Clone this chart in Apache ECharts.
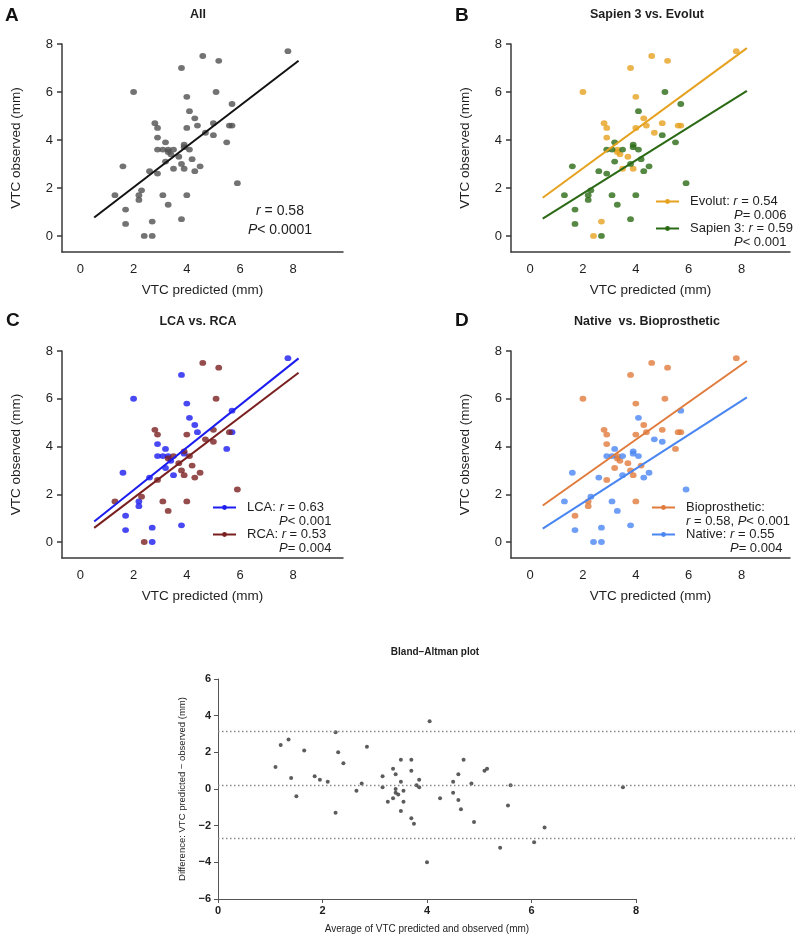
<!DOCTYPE html>
<html><head><meta charset="utf-8">
<script src="https://cdn.jsdelivr.net/npm/echarts@6/dist/echarts.min.js"></script>
<style>html,body{margin:0;padding:0;background:#fff}#c{width:800px;height:939px}</style>
</head><body><div id="c"></div>
<script>
// ---------- DATA (VTC predicted, VTC observed) ----------
const evolut = [[7.8,7.7],[4.6,7.5],[5.2,7.3],[3.8,7.0],[2.0,6.0],[4.0,5.8],[2.8,4.7],[2.9,4.5],[4.0,4.5],[4.3,4.9],[4.4,4.6],[5.0,4.7],[4.7,4.3],[5.6,4.6],[5.7,4.6],[2.9,4.1],[3.3,3.6],[3.3,3.5],[3.4,3.4],[3.7,3.3],[3.5,2.8],[3.9,2.8],[2.7,0.6],[2.4,0.0]];
const sapien3 = [[5.1,6.0],[5.7,5.5],[4.1,5.2],[5.0,4.2],[3.2,3.9],[5.5,3.9],[3.9,3.8],[3.9,3.7],[2.9,3.6],[3.1,3.6],[3.5,3.6],[4.1,3.6],[3.2,3.1],[4.2,3.2],[3.8,3.0],[1.6,2.9],[4.5,2.9],[2.6,2.7],[4.3,2.7],[2.9,2.6],[5.9,2.2],[2.3,1.9],[1.3,1.7],[2.2,1.7],[2.2,1.5],[3.1,1.7],[4.0,1.7],[3.3,1.3],[1.7,1.1],[1.7,0.5],[3.8,0.7],[2.7,0.0]];
const lca = [[7.8,7.7],[3.8,7.0],[2.0,6.0],[4.0,5.8],[4.1,5.2],[4.3,4.9],[4.4,4.6],[5.7,5.5],[5.7,4.6],[5.5,3.9],[2.9,4.1],[3.2,3.9],[2.9,3.6],[3.1,3.6],[3.3,3.6],[3.4,3.4],[3.2,3.1],[3.5,2.8],[3.9,3.7],[1.6,2.9],[2.6,2.7],[2.2,1.7],[2.2,1.5],[1.7,1.1],[1.7,0.5],[2.7,0.6],[3.8,0.7],[2.7,0.0]];
const rca = [[4.6,7.5],[5.2,7.3],[5.1,6.0],[2.8,4.7],[2.9,4.5],[4.0,4.5],[4.7,4.3],[5.0,4.7],[5.0,4.2],[5.6,4.6],[3.3,3.5],[3.5,3.6],[3.7,3.3],[3.9,3.8],[4.1,3.6],[4.2,3.2],[3.8,3.0],[3.9,2.8],[4.5,2.9],[4.3,2.7],[2.9,2.6],[5.9,2.2],[2.3,1.9],[1.3,1.7],[3.1,1.7],[4.0,1.7],[3.3,1.3],[2.4,0.0]];
const bioprosthetic = [[7.8,7.7],[4.6,7.5],[5.2,7.3],[3.8,7.0],[2.0,6.0],[5.1,6.0],[4.0,5.8],[2.8,4.7],[2.9,4.5],[4.0,4.5],[4.3,4.9],[4.4,4.6],[5.0,4.7],[5.6,4.6],[5.7,4.6],[5.5,3.9],[2.9,4.1],[3.3,3.6],[3.3,3.5],[3.4,3.4],[3.7,3.3],[3.8,3.0],[3.9,2.8],[3.2,3.1],[4.2,3.2],[2.9,2.6],[2.2,1.7],[2.2,1.5],[4.0,1.7],[1.7,1.1]];
const nativeValve = [[5.7,5.5],[4.1,5.2],[4.7,4.3],[5.0,4.2],[3.2,3.9],[3.9,3.8],[3.9,3.7],[2.9,3.6],[3.1,3.6],[3.5,3.6],[4.1,3.6],[3.5,2.8],[4.5,2.9],[4.3,2.7],[1.6,2.9],[2.6,2.7],[5.9,2.2],[2.3,1.9],[1.3,1.7],[3.1,1.7],[3.3,1.3],[1.7,0.5],[2.7,0.6],[3.8,0.7],[2.4,0.0],[2.7,0.0]];
const allPoints = evolut.concat(sapien3);

// regression line end points
const fitAll = [[0.52,0.77],[8.2,7.3]];
const fitEvolut = [[0.48,1.59],[8.2,7.83]];
const fitSapien = [[0.48,0.72],[8.2,6.05]];
const fitLCA = [[0.52,0.86],[8.2,7.69]];
const fitRCA = [[0.52,0.59],[8.2,7.09]];
const fitBio = [[0.48,1.53],[8.2,7.58]];
const fitNative = [[0.48,0.56],[8.2,6.06]];

// Bland-Altman
const baAverage = [1.1,1.2,1.35,1.4,1.5,1.65,1.85,1.95,2.1,2.25,2.25,2.3,2.4,2.65,2.75,2.85,3.15,3.15,3.25,3.35,3.35,3.4,3.4,3.4,3.45,3.5,3.5,3.5,3.55,3.55,3.7,3.7,3.7,3.75,3.8,3.85,3.85,4.0,4.05,4.25,4.5,4.5,4.6,4.6,4.65,4.7,4.85,4.9,5.1,5.15,5.4,5.55,5.6,6.05,6.25,7.75];
const baDifference = [1.2,2.4,2.7,0.6,-0.4,2.1,0.7,0.5,0.4,3.1,-1.3,2.0,1.4,-0.1,0.3,2.3,0.7,0.1,-0.7,1.1,-0.5,0.8,0.0,-0.2,-0.3,1.6,0.4,-1.2,-0.1,-0.7,1.6,1.0,-1.6,-1.9,0.2,0.5,0.1,-4.0,3.7,-0.5,0.4,-0.2,0.8,-0.6,-1.1,1.6,0.3,-1.8,1.0,1.1,-3.2,-0.9,0.2,-2.9,-2.1,0.1];
const baLimits = [3.13, 0.21, -2.71];

const scatterTicks = [0,2,4,6,8];

// ---------- CHART ----------
const FONT = '"Liberation Sans", Arial, sans-serif';
const TXT = '#1e1e1e';
const AX = '#3a3a3a';
const chart = echarts.init(document.getElementById('c'), null, {renderer:'canvas'});

const grids = [
  {left:62, top:44, width:281, height:208},
  {left:511, top:44, width:279, height:208},
  {left:62, top:351, width:281, height:207},
  {left:511, top:351, width:279, height:207},
  {left:218, top:679, width:418, height:220},
  {left:218, top:679, width:577, height:220}
];

function xAx(gi, min, max){
  return {type:'value', gridIndex:gi, min:min, max:max,
    axisLine:{show:true, onZero:false, lineStyle:{color:AX, width:1.5}},
    axisTick:{show:false},
    axisLabel:{customValues:scatterTicks, fontSize:13, color:TXT, margin:11, fontFamily:FONT},
    splitLine:{show:false},
    name:'VTC predicted (mm)', nameLocation:'middle', nameGap:31,
    nameTextStyle:{fontSize:13.5, color:TXT, fontFamily:FONT}};
}
function yAx(gi){
  return {type:'value', gridIndex:gi, min:-0.67, max:8,
    axisLine:{show:true, onZero:false, lineStyle:{color:AX, width:1.5}},
    axisTick:{show:true, customValues:scatterTicks, length:5, lineStyle:{color:AX, width:1.5}},
    axisLabel:{customValues:scatterTicks, fontSize:13, color:TXT, margin:9, fontFamily:FONT},
    splitLine:{show:false},
    name:'VTC observed (mm)', nameLocation:'middle', nameGap:39,
    nameTextStyle:{fontSize:13.5, color:TXT, fontFamily:FONT}};
}

function dots(name, data, gi, color){
  return {type:'scatter', name:name, xAxisIndex:gi, yAxisIndex:gi, data:data,
    symbol:'circle', symbolSize:[6.8,5.8], itemStyle:{color:color}, silent:true, z:3};
}
function fit(name, data, gi, color){
  return {type:'line', name:name, xAxisIndex:gi, yAxisIndex:gi, data:data,
    symbol:'circle', showSymbol:false, symbolSize:6,
    lineStyle:{color:color, width:2}, itemStyle:{color:color}, silent:true, z:4};
}

const rich = {
  e:{fontSize:13, lineHeight:14, fontFamily:FONT, color:TXT},
  t:{fontSize:13, lineHeight:14, fontFamily:FONT, color:TXT},
  i:{fontSize:13, lineHeight:14, fontFamily:FONT, color:TXT, fontStyle:'italic'},
  s:{fontSize:13, lineHeight:14, width:44},
  s2:{fontSize:13, lineHeight:14, width:32},
  p:{fontSize:13, lineHeight:14, width:6}
};
const legendText = {
  'Evolut':'{e| }\n{p|}{t|Evolut: }{i|r}{t| = 0.54}\n{p|}{s| }{i|P}{t|= 0.006}',
  'Sapien 3':'{e| }\n{p|}{t|Sapien 3: }{i|r}{t| = 0.59}\n{p|}{s| }{i|P}{t|< 0.001}',
  'LCA':'{e| }\n{p|}{t|LCA: }{i|r}{t| = 0.63}\n{p|}{s2| }{i|P}{t|< 0.001}',
  'RCA':'{e| }\n{p|}{t|RCA: }{i|r}{t| = 0.53}\n{p|}{s2| }{i|P}{t|= 0.004}',
  'Bioprosthetic':'{e| }\n{p|}{t|Bioprosthetic:}\n{p|}{i|r}{t| = 0.58, }{i|P}{t|< 0.001}',
  'Native':'{e| }\n{p|}{t|Native: }{i|r}{t| = 0.55}\n{p|}{s| }{i|P}{t|= 0.004}'
};
function legend(names, left, top){
  return {data:names, left:left, top:top, orient:'vertical', padding:0,
    itemWidth:23, itemHeight:6, itemGap:-14, selectedMode:false,
    formatter:function(n){return legendText[n];},
    textStyle:{rich:rich, fontSize:13, fontFamily:FONT, color:TXT}};
}

function ttl(text, cx, top, size){
  return {text:text, left:cx, top:top, textAlign:'center', padding:0,
    textStyle:{fontSize:size, fontWeight:'bold', color:TXT, fontFamily:FONT}};
}
function letter(text, left, top){
  return {text:text, left:left, top:top, padding:0,
    textStyle:{fontSize:19, fontWeight:'bold', color:'#111', fontFamily:FONT}};
}

const minus = v => String(v).replace('-', '\u2212');

const option = {
  animation:false,
  backgroundColor:'#fff',
  title:[
    letter('A', 5, 6), ttl('All', 198, 8, 12.5),
    letter('B', 455, 6), ttl('Sapien 3 vs. Evolut', 647, 8, 12.5),
    letter('C', 6, 311), ttl('LCA vs. RCA', 198, 315, 12.5),
    letter('D', 455, 311), ttl('Native  vs. Bioprosthetic', 647, 315, 12.5),
    ttl('Bland\u2013Altman plot', 435, 647, 10),
    {text:'{i|r}{t| = 0.58}\n{i|P}{t|< 0.0001}', left:280, top:202, textAlign:'center', padding:0,
     textStyle:{fontWeight:'normal', rich:{
       t:{fontSize:14, lineHeight:19, fontFamily:FONT, color:TXT, fontWeight:'normal'},
       i:{fontSize:14, lineHeight:19, fontFamily:FONT, color:TXT, fontWeight:'normal', fontStyle:'italic'}}}}
  ],
  legend:[
    legend(['Evolut','Sapien 3'], 655, 181),
    legend(['LCA','RCA'], 212, 487),
    legend(['Bioprosthetic','Native'], 651, 487)
  ],
  grid:grids,
  xAxis:[
    xAx(0,-0.69,9.87), xAx(1,-0.72,9.83), xAx(2,-0.69,9.87), xAx(3,-0.72,9.83),
    {type:'value', gridIndex:4, min:0, max:8, interval:2,
     axisLine:{show:true, onZero:false, lineStyle:{color:'#555', width:1}},
     axisTick:{show:true, length:4, lineStyle:{color:'#555'}},
     axisLabel:{fontSize:11, fontWeight:'bold', color:TXT, margin:6, fontFamily:FONT},
     splitLine:{show:false},
     name:'Average of VTC predicted and observed (mm)', nameLocation:'middle', nameGap:25,
     nameTextStyle:{fontSize:10, color:TXT, fontFamily:FONT}},
    {type:'value', gridIndex:5, min:0, max:1, show:false}
  ],
  yAxis:[
    yAx(0), yAx(1), yAx(2), yAx(3),
    {type:'value', gridIndex:4, min:-6, max:6, interval:2,
     axisLine:{show:true, onZero:false, lineStyle:{color:'#555', width:1}},
     axisTick:{show:true, length:4, lineStyle:{color:'#555'}},
     axisLabel:{fontSize:11, fontWeight:'bold', color:TXT, margin:7, fontFamily:FONT, formatter:minus},
     splitLine:{show:false},
     name:'Difference: VTC predicted \u2212 observed (mm)', nameLocation:'middle', nameGap:26,
     nameTextStyle:{fontSize:9.5, color:TXT, fontFamily:FONT}},
    {type:'value', gridIndex:5, min:-6, max:6, show:false}
  ],
  series:[
    dots('All pts', allPoints, 0, '#505050'),
    fit('All fit', fitAll, 0, '#111'),

    dots('Evolut pts', evolut, 1, '#e6a11f'),
    dots('Sapien 3 pts', sapien3, 1, '#2b6a14'),
    fit('Evolut', fitEvolut, 1, '#e6a11f'),
    fit('Sapien 3', fitSapien, 1, '#2b6a14'),

    dots('LCA pts', lca, 2, '#1c1cf0'),
    dots('RCA pts', rca, 2, '#7a1f1f'),
    fit('LCA', fitLCA, 2, '#1c1cf0'),
    fit('RCA', fitRCA, 2, '#7a1f1f'),

    dots('Bioprosthetic pts', bioprosthetic, 3, '#e07b3c'),
    dots('Native pts', nativeValve, 3, '#4a86f2'),
    fit('Bioprosthetic', fitBio, 3, '#e07b3c'),
    fit('Native', fitNative, 3, '#4a86f2'),

    {type:'scatter', name:'BA', xAxisIndex:4, yAxisIndex:4,
     data:baAverage.map((a,i)=>[a, baDifference[i]]),
     symbol:'circle', symbolSize:4, itemStyle:{color:'#333'}, silent:true, z:3},
    {type:'line', name:'BA limits', xAxisIndex:5, yAxisIndex:5, data:[], silent:true,
     markLine:{silent:true, symbol:['none','none'], label:{show:false},
       lineStyle:{color:'#888', width:1.3, type:[1.5,2.5]},
       data:baLimits.map(v=>({yAxis:v}))}}
  ]
};
chart.setOption(option);
</script></body></html>
